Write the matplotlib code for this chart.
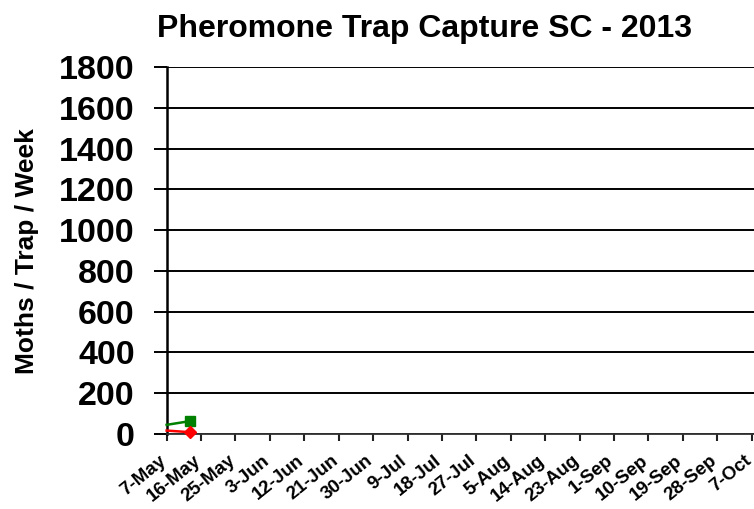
import matplotlib
matplotlib.use("Agg")
import matplotlib.pyplot as plt
import matplotlib.transforms as mtransforms
import datetime as dt

# Data
dates = ["2013-05-07", "2013-05-13"]
green_values = [45, 63]
red_values = [17, 9]
tick_dates = ["2013-05-07", "2013-05-16", "2013-05-25", "2013-06-03", "2013-06-12",
              "2013-06-21", "2013-06-30", "2013-07-09", "2013-07-18", "2013-07-27",
              "2013-08-05", "2013-08-14", "2013-08-23", "2013-09-01", "2013-09-10",
              "2013-09-19", "2013-09-28", "2013-10-07"]
tick_labels = ["7-May", "16-May", "25-May", "3-Jun", "12-Jun", "21-Jun", "30-Jun",
               "9-Jul", "18-Jul", "27-Jul", "5-Aug", "14-Aug", "23-Aug", "1-Sep",
               "10-Sep", "19-Sep", "28-Sep", "7-Oct"]
y_ticks = [0, 200, 400, 600, 800, 1000, 1200, 1400, 1600, 1800]

plt.rcParams['font.family'] = ['Liberation Sans', 'DejaVu Sans']

fig = plt.figure(figsize=(7.54, 5.09), dpi=100)
ax = fig.add_axes([0.221, 0.1473, 0.779, 0.7211])

x = [dt.datetime.strptime(d, "%Y-%m-%d") for d in dates]
tx = [dt.datetime.strptime(d, "%Y-%m-%d") for d in tick_dates]

ax.plot(x, green_values, color="#008000", lw=1.8, marker="s", ms=6.5,
        markevery=[1], clip_on=False, zorder=3)
ax.plot(x, red_values, color="#ff0000", lw=1.8, marker="D", ms=6.5,
        markevery=[1], clip_on=False, zorder=3)

ax.set_xlim(tx[0], tx[-1] + dt.timedelta(days=0.6))
ax.set_ylim(0, 1800)
ax.set_yticks(y_ticks)
ax.set_yticklabels([str(v) for v in y_ticks], fontsize=24.5, fontweight="bold")
ax.yaxis.grid(True, color="black", lw=1.4)
ax.set_axisbelow(True)

for s in ["top", "right"]:
    ax.spines[s].set_visible(False)
ax.spines["left"].set_linewidth(1.8)
ax.spines["left"].set_color("black")
ax.spines["bottom"].set_linewidth(1.3)
ax.spines["bottom"].set_color("#333333")
ax.tick_params(axis="y", length=9.4, width=1.4, pad=13.5, color="black")
ax.tick_params(axis="x", length=5, width=1.5, pad=8, color="#222222")

ax.set_xticks(tx)
ax.set_xticklabels(tick_labels, fontsize=13.5, fontweight="bold", rotation=39,
                   ha="right", va="top", rotation_mode="anchor")
offset = mtransforms.ScaledTranslation(-8 / 100, 0, fig.dpi_scale_trans)
for lbl in ax.get_xticklabels():
    lbl.set_transform(lbl.get_transform() + offset)

fig.text(27 / 754, 0.506, "Moths / Trap / Week", rotation=90, ha="center", va="center",
         fontsize=19, fontweight="bold")
fig.text(0.563, 0.943, "Pheromone Trap Capture SC - 2013", ha="center", va="center",
         fontsize=23, fontweight="bold")

fig.savefig("out.png", dpi=100)
